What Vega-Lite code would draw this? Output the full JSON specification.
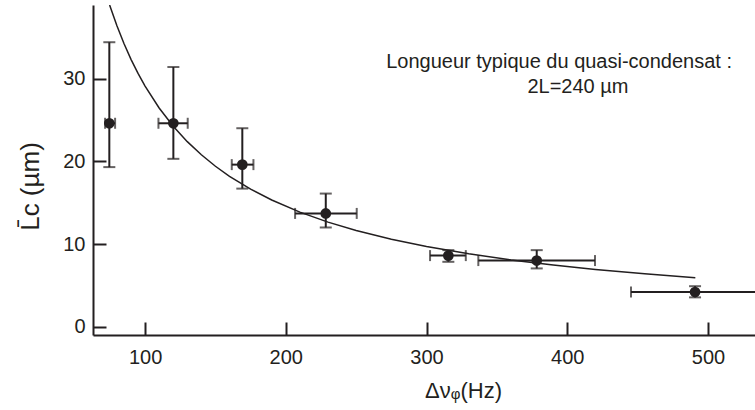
{
  "$schema": "https://vega.github.io/schema/vega-lite/v6.json",
  "autosize": {"type": "none"},
  "padding": {"left": 93, "top": 5, "right": 0, "bottom": 70},
  "width": 662,
  "height": 330,
  "background": "white",
  "config": {
    "view": {"stroke": null},
    "font": "Liberation Sans",
    "axis": {
      "grid": false,
      "domainColor": "#231f20",
      "domainWidth": 2,
      "tickColor": "#231f20",
      "tickWidth": 2,
      "tickSize": -13,
      "labelFont": "Liberation Sans",
      "labelFontSize": 20,
      "labelColor": "#231f20",
      "titleFont": "Liberation Sans",
      "titleFontWeight": "normal",
      "titleColor": "#231f20"
    }
  },
  "datasets": {
    "pts": [
      {"x": 74.6, "y": 24.6, "ylo": 19.3, "yhi": 34.4, "xlo": 71.6, "xhi": 78.7},
      {"x": 120.1, "y": 24.6, "ylo": 20.3, "yhi": 31.4, "xlo": 109.5, "xhi": 130.3},
      {"x": 169.1, "y": 19.6, "ylo": 16.7, "yhi": 24.0, "xlo": 161.6, "xhi": 177.0},
      {"x": 228.4, "y": 13.7, "ylo": 12.0, "yhi": 16.1, "xlo": 206.6, "xhi": 250.4},
      {"x": 315.5, "y": 8.6, "ylo": 7.85, "yhi": 9.26, "xlo": 302.5, "xhi": 327.9},
      {"x": 378.3, "y": 8.0, "ylo": 7.05, "yhi": 9.26, "xlo": 336.8, "xhi": 419.7},
      {"x": 490.8, "y": 4.2, "ylo": 3.55, "yhi": 4.9, "xlo": 445.3, "xhi": 545}
    ],
    "fit": [
      {"x": 74.8, "y": 38.9}, {"x": 80, "y": 36.38}, {"x": 85, "y": 34.24}, {"x": 90, "y": 32.33},
      {"x": 95, "y": 30.63}, {"x": 100, "y": 29.1}, {"x": 110, "y": 26.45}, {"x": 120, "y": 24.25},
      {"x": 130, "y": 22.38}, {"x": 140, "y": 20.79}, {"x": 150, "y": 19.4}, {"x": 160, "y": 18.19},
      {"x": 175, "y": 16.63}, {"x": 190, "y": 15.32}, {"x": 210, "y": 13.86}, {"x": 230, "y": 12.65},
      {"x": 250, "y": 11.64}, {"x": 275, "y": 10.58}, {"x": 300, "y": 9.7}, {"x": 330, "y": 8.82},
      {"x": 360, "y": 8.08}, {"x": 390, "y": 7.46}, {"x": 420, "y": 6.93}, {"x": 455, "y": 6.4},
      {"x": 491, "y": 5.93}
    ],
    "notes": [
      {"tx": 394.2, "ty": 31.97, "label": "Longueur typique du quasi-condensat :"},
      {"tx": 407.6, "ty": 28.95, "label": "2L=240 µm"}
    ]
  },
  "layer": [
    {
      "data": {"name": "fit"},
      "mark": {"type": "line", "color": "#231f20", "strokeWidth": 1.5, "clip": true},
      "encoding": {
        "x": {"field": "x", "type": "quantitative",
              "scale": {"domain": [63, 533.4], "nice": false, "zero": false},
              "axis": {"values": [100, 200, 300, 400, 500], "labelPadding": 25,
                       "title": "Δνᵩ(Hz)", "titleFontSize": 22,
                       "titleX": 370, "titleY": 62, "titleBaseline": "alphabetic", "titleAlign": "center"}},
        "y": {"field": "y", "type": "quantitative",
              "scale": {"domain": [-1, 38.9], "nice": false, "zero": false},
              "axis": {"values": [0, 10, 20, 30], "labelPadding": 21,
                       "title": "L̄c  (µm)", "titleFontSize": 26,
                       "titleX": -63, "titleY": 181, "titleBaseline": "middle", "titleAlign": "center", "titleAngle": -90}}
      }
    },
    {
      "data": {"name": "pts"},
      "mark": {"type": "rule", "color": "#231f20", "strokeWidth": 2},
      "encoding": {
        "x": {"field": "x", "type": "quantitative"},
        "y": {"field": "ylo", "type": "quantitative"},
        "y2": {"field": "yhi"}
      }
    },
    {
      "data": {"name": "pts"},
      "mark": {"type": "rule", "color": "#231f20", "strokeWidth": 2, "clip": true},
      "encoding": {
        "x": {"field": "xlo", "type": "quantitative"},
        "x2": {"field": "xhi"},
        "y": {"field": "y", "type": "quantitative"}
      }
    },
    {
      "data": {"name": "pts"},
      "mark": {"type": "tick", "orient": "horizontal", "color": "#231f20", "size": 12, "thickness": 2},
      "encoding": {
        "x": {"field": "x", "type": "quantitative"},
        "y": {"field": "ylo", "type": "quantitative"}
      }
    },
    {
      "data": {"name": "pts"},
      "mark": {"type": "tick", "orient": "horizontal", "color": "#231f20", "size": 12, "thickness": 2},
      "encoding": {
        "x": {"field": "x", "type": "quantitative"},
        "y": {"field": "yhi", "type": "quantitative"}
      }
    },
    {
      "data": {"name": "pts"},
      "mark": {"type": "tick", "orient": "vertical", "color": "#231f20", "size": 11, "thickness": 2, "clip": true},
      "encoding": {
        "x": {"field": "xlo", "type": "quantitative"},
        "y": {"field": "y", "type": "quantitative"}
      }
    },
    {
      "data": {"name": "pts"},
      "mark": {"type": "tick", "orient": "vertical", "color": "#231f20", "size": 11, "thickness": 2, "clip": true},
      "encoding": {
        "x": {"field": "xhi", "type": "quantitative"},
        "y": {"field": "y", "type": "quantitative"}
      }
    },
    {
      "data": {"name": "pts"},
      "mark": {"type": "point", "shape": "circle", "filled": true, "color": "#231f20", "opacity": 1, "size": 115},
      "encoding": {
        "x": {"field": "x", "type": "quantitative"},
        "y": {"field": "y", "type": "quantitative"}
      }
    },
    {
      "data": {"name": "notes"},
      "mark": {"type": "text", "font": "Liberation Sans", "fontSize": 20, "color": "#231f20", "align": "center", "baseline": "middle"},
      "encoding": {
        "x": {"field": "tx", "type": "quantitative"},
        "y": {"field": "ty", "type": "quantitative"},
        "text": {"field": "label"}
      }
    }
  ]
}
